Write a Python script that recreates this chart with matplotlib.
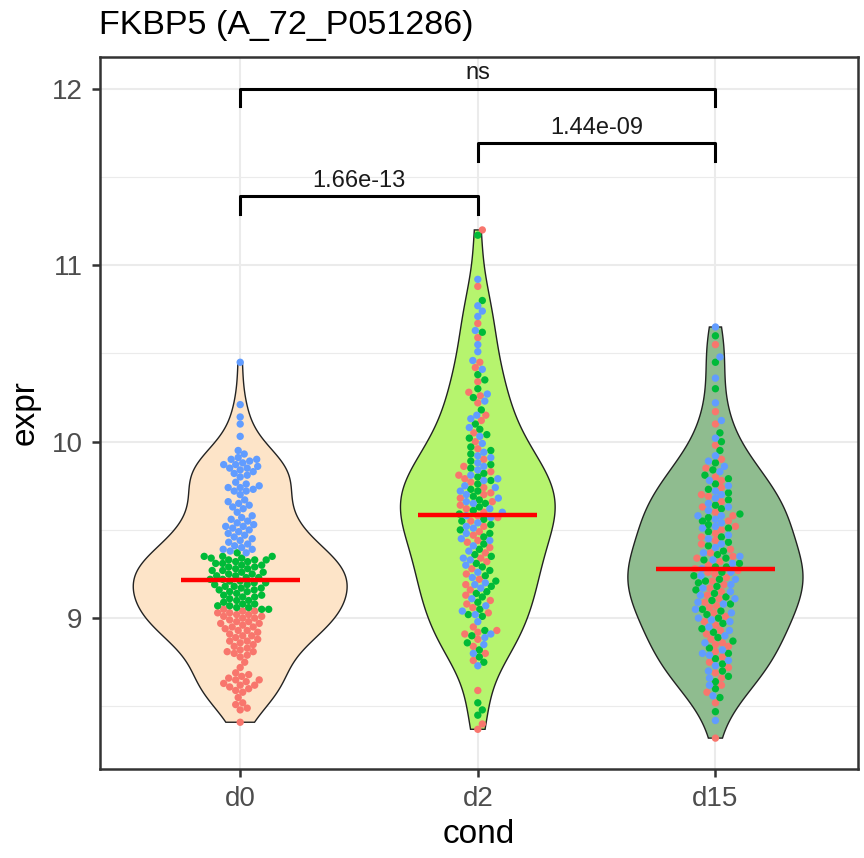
import numpy as np
import matplotlib
matplotlib.use("Agg")
import matplotlib.pyplot as plt

plt.rcParams['font.family'] = ['Liberation Sans', 'DejaVu Sans']

# groups on the x axis
conds = ["d0", "d2", "d15"]
fills = ["#FDE4C8", "#B6F46E", "#8FBC8F"]
pt_cols = {"r": "#F8766D", "g": "#00BA38", "b": "#619CFF"}

# expression values, per condition and colour
d0_r = [9.05, 9.04, 9.04, 9.03, 9.02, 9.02, 9.01, 9.00, 9.00, 8.99, 8.98, 8.98, 8.97, 8.96, 8.95, 8.95,
        8.94, 8.93, 8.92, 8.91, 8.90, 8.89, 8.88, 8.87, 8.86, 8.84, 8.83, 8.82, 8.81, 8.80, 8.79, 8.78,
        8.75, 8.72, 8.69, 8.68, 8.67, 8.66, 8.65, 8.64, 8.63, 8.62, 8.61, 8.60, 8.59, 8.58, 8.55, 8.52,
        8.51, 8.49, 8.48, 8.41, 9.03, 9.01, 8.97, 8.93, 8.90, 8.87, 8.85, 8.81, 8.65, 8.62]
d0_g = [9.37, 9.05, 9.07, 9.35, 9.35, 9.34, 9.34, 9.33, 9.33, 9.32, 9.32, 9.31, 9.31, 9.30, 9.29, 9.29,
        9.28, 9.27, 9.27, 9.26, 9.26, 9.25, 9.24, 9.24, 9.23, 9.22, 9.22, 9.21, 9.20, 9.20, 9.19, 9.18,
        9.18, 9.17, 9.16, 9.16, 9.15, 9.14, 9.13, 9.13, 9.12, 9.11, 9.10, 9.09, 9.08, 9.08, 9.07, 9.06,
        9.06, 9.05, 9.30, 9.28, 9.25, 9.23, 9.21, 9.19, 9.17, 9.15, 9.12, 9.10, 9.35, 9.33]
d0_b = [10.45, 10.21, 10.14, 10.10, 10.03, 9.91, 9.90, 9.89, 9.88, 9.87, 9.87, 9.86, 9.85, 9.84, 9.83,
        9.82, 9.80, 9.77, 9.76, 9.75, 9.74, 9.73, 9.72, 9.72, 9.70, 9.67, 9.66, 9.65, 9.64, 9.63, 9.62,
        9.60, 9.57, 9.55, 9.54, 9.53, 9.52, 9.51, 9.50, 9.49, 9.47, 9.45, 9.44, 9.43, 9.95, 9.42, 9.93,
        9.41, 9.81, 9.40, 9.56, 9.39, 9.48, 9.39, 9.52, 9.38, 9.90, 9.37, 9.74, 9.46, 9.58, 9.85]

d2_r = [11.20, 10.88, 10.67, 10.59, 10.42, 10.28, 10.26, 10.22, 10.12, 10.05, 10.00, 9.96, 9.90, 9.86,
        9.83, 9.79, 9.77, 9.74, 9.71, 9.68, 9.66, 9.64, 9.62, 9.60, 9.57, 9.55, 9.52, 9.49, 9.47, 9.44,
        9.40, 9.37, 9.34, 9.32, 9.28, 9.25, 9.22, 9.19, 9.16, 9.13, 9.10, 9.06, 9.03, 10.15, 10.45, 8.95,
        8.93, 8.91, 8.88, 8.84, 8.80, 8.76, 8.59, 8.40, 8.37, 9.81, 9.58, 9.43, 9.08, 8.92, 10.34, 9.70]
d2_g = [11.17, 10.80, 10.62, 10.35, 10.30, 10.25, 10.18, 10.10, 10.02, 9.97, 9.93, 9.89, 9.85, 9.82,
        9.80, 9.76, 9.73, 9.69, 9.67, 9.63, 9.61, 9.59, 9.56, 9.53, 9.50, 9.46, 9.42, 9.39, 9.35, 9.31,
        9.27, 9.24, 9.21, 9.18, 9.15, 9.12, 9.09, 9.05, 9.02, 10.04, 10.38, 8.93, 8.90, 8.86, 8.82, 8.78,
        8.75, 8.52, 8.48, 8.45, 9.87, 9.72, 9.65, 9.55, 9.48, 9.36, 9.29, 9.14, 9.01, 10.07, 9.95, 9.78]
d2_b = [10.92, 10.77, 10.74, 10.71, 10.63, 10.55, 10.51, 10.41, 10.27, 10.23, 10.15, 10.08, 10.03, 9.99,
        9.94, 9.91, 9.88, 9.84, 9.81, 9.78, 9.75, 9.72, 9.70, 9.68, 9.65, 9.62, 9.60, 9.58, 9.54, 9.51,
        9.48, 9.45, 9.41, 9.38, 9.33, 9.30, 9.26, 9.23, 9.20, 9.17, 9.11, 9.07, 9.04, 8.98, 10.46, 8.91,
        8.89, 8.85, 8.80, 8.73, 9.86, 9.79, 9.74, 9.66, 9.57, 9.52, 9.44, 9.34, 9.19, 9.02, 10.13, 9.92]

d15_r = [10.55, 10.17, 10.10, 9.98, 9.90, 9.85, 9.80, 9.74, 9.70, 9.66, 9.63, 9.78, 9.69, 9.60, 9.58,
         9.55, 9.52, 9.48, 9.46, 9.44, 9.42, 9.39, 9.50, 9.37, 9.35, 9.34, 9.32, 9.30, 9.28, 9.27, 9.25,
         9.23, 9.21, 9.19, 9.17, 9.15, 9.13, 9.26, 9.11, 9.09, 9.06, 9.03, 9.01, 8.98, 8.96, 8.93, 8.91,
         8.88, 9.07, 8.86, 8.84, 8.81, 8.78, 8.75, 8.72, 8.69, 8.66, 8.85, 8.62, 8.58, 8.52, 8.32]
d15_g = [10.60, 10.45, 10.30, 10.05, 9.95, 9.88, 10.00, 9.84, 9.81, 9.76, 9.73, 9.71, 9.67, 9.64, 9.79,
         9.62, 9.59, 9.57, 9.53, 9.51, 9.49, 9.46, 9.43, 9.41, 9.38, 9.55, 9.36, 9.33, 9.31, 9.29, 9.26,
         9.24, 9.22, 9.20, 9.18, 9.16, 9.14, 9.29, 9.21, 9.34, 9.12, 9.10, 9.08, 9.05, 9.02, 9.00, 8.97,
         8.94, 8.92, 8.89, 9.04, 8.87, 8.83, 8.80, 8.77, 8.74, 8.70, 8.67, 8.64, 8.60, 8.55, 8.47]
d15_b = [10.65, 10.48, 10.22, 10.36, 10.12, 10.02, 9.92, 9.89, 9.86, 9.83, 9.78, 9.75, 9.72, 9.68, 9.65,
         9.63, 9.70, 9.61, 9.58, 9.56, 9.54, 9.51, 9.47, 9.45, 9.42, 9.40, 9.52, 9.58, 9.37, 9.35, 9.33,
         9.31, 9.28, 9.26, 9.24, 9.22, 9.19, 9.17, 9.15, 9.13, 9.11, 9.08, 9.05, 9.03, 9.00, 8.98, 8.95,
         8.93, 8.90, 8.99, 9.09, 8.86, 8.82, 8.79, 8.76, 8.73, 8.70, 8.66, 8.80, 8.62, 8.56, 8.42]

groups = [
    {"r": d0_r, "g": d0_g, "b": d0_b},
    {"r": d2_r, "g": d2_g, "b": d2_b},
    {"r": d15_r, "g": d15_g, "b": d15_b},
]

# significance brackets: (from, to, y, label)
comparisons = [(1, 2, 11.39, "1.66e-13"), (2, 3, 11.69, "1.44e-09"), (1, 3, 12.0, "ns")]
tip = 0.1


def nrd0(x):
    x = np.asarray(x)
    iqr = np.subtract(*np.percentile(x, [75, 25]))
    lo = min(np.std(x, ddof=1), iqr / 1.34)
    return 0.9 * lo * len(x) ** -0.2


def kde(x, grid):
    bw = nrd0(x)
    z = (grid[:, None] - np.asarray(x)[None, :]) / bw
    return np.exp(-0.5 * z ** 2).sum(axis=1) / (len(x) * bw * np.sqrt(2 * np.pi))


def swarm(vals, sx, sy, sep):
    # simple beeswarm in pixel space
    vals = np.asarray(vals)
    ys = vals * sy
    xs = np.zeros(len(vals))
    done = []
    for i in np.argsort(vals):
        for k in range(800):
            off = (k + 1) // 2 * 0.5 * (1 if k % 2 else -1)
            ok = True
            for j in done:
                dy = ys[i] - ys[j]
                if abs(dy) < sep and (off - xs[j]) ** 2 + dy ** 2 < sep ** 2:
                    ok = False
                    break
            if ok:
                xs[i] = off
                break
        done.append(i)
    return xs / sx


fig = plt.figure(figsize=(8.64, 8.58), dpi=100)
ax = fig.add_axes([100 / 864, 89 / 858, 758 / 864, 712 / 858])
ax.set_xlim(0.41, 3.6)
ax.set_ylim(8.145, 12.18)

# pixels per data unit
p0 = ax.transData.transform((0, 0))
p1 = ax.transData.transform((1, 1))
sx, sy = p1 - p0

# violins (area scaling, trimmed)
dens = []
for grp in groups:
    allv = np.concatenate([grp["r"], grp["g"], grp["b"]])
    grid = np.linspace(allv.min(), allv.max(), 512)
    dens.append((grid, kde(allv, grid), allv))
dmax = max(d[1].max() for d in dens)

for i, (grid, d, allv) in enumerate(dens):
    x = i + 1
    w = 0.45 * d / dmax
    xs = np.concatenate([x - w, (x + w)[::-1], [x - w[0]]])
    ys = np.concatenate([grid, grid[::-1], [grid[0]]])
    ax.fill(xs, ys, facecolor=fills[i], edgecolor="#222222", linewidth=1.0, zorder=2)

    cols = []
    for key in ["r", "g", "b"]:
        cols += [pt_cols[key]] * len(groups[i][key])
    off = swarm(allv, sx, sy, 6.8)
    ax.scatter(x + off, allv, s=28, c=cols, edgecolors="none", zorder=3)

    med = np.median(allv)
    ax.plot([x - 0.25, x + 0.25], [med, med], color="#FF0000", linewidth=3.2, zorder=4,
            solid_capstyle="butt")

# brackets
for a, b, y, lab in comparisons:
    ax.plot([a, a, b, b], [y - tip, y, y, y - tip], color="black", linewidth=2.2, zorder=5)
    ax.text((a + b) / 2, y + 0.025, lab, ha="center", va="bottom", fontsize=17, color="#1A1A1A")

# theme_bw look
ax.set_xticks([1, 2, 3])
ax.set_xticklabels(conds)
ax.set_yticks([9, 10, 11, 12])
ax.set_yticks([8.5, 9.5, 10.5, 11.5], minor=True)
ax.grid(True, which="major", color="#EBEBEB", linewidth=1.5, zorder=0)
ax.grid(True, which="minor", axis="y", color="#EBEBEB", linewidth=0.8, zorder=0)
ax.set_axisbelow(True)
for s in ax.spines.values():
    s.set_color("#333333")
    s.set_linewidth(1.8)
ax.tick_params(which="major", length=5.5, width=1.8, color="#333333", labelcolor="#4D4D4D",
               labelsize=20, pad=7)
ax.tick_params(which="minor", length=0)

ax.set_xlabel("cond", fontsize=24, labelpad=5)
ax.set_ylabel("expr", fontsize=24, labelpad=8)
fig.text(99 / 864, 1 - 34 / 858, "FKBP5 (A_72_P051286)", fontsize=24.5, ha="left", va="baseline")

fig.savefig("out.png", dpi=100)
